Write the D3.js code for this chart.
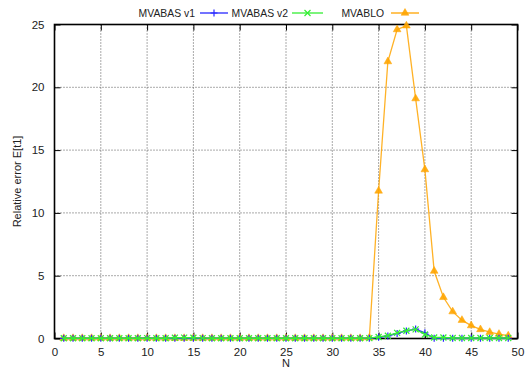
<!DOCTYPE html>
<html><head><meta charset="utf-8">
<script src="https://cdn.jsdelivr.net/npm/d3@7"></script>
<style>body{margin:0;background:#fff}svg{display:block;font-family:"Liberation Sans",Arial,sans-serif}</style>
</head><body><svg id="c" width="529" height="375"></svg>
<script>
const N = d3.range(1, 50);
const v1 = [0.01,0.01,0.01,0.01,0.01,0.01,0.01,0.01,0.01,0.02,0.01,0.01,0.02,0.02,0.02,0.01,0.01,0.01,0.01,0.01,0.01,0.01,0.01,0.01,0.01,0.01,0.01,0.01,0.01,0.01,0.01,0.01,0.01,0.02,0.1,0.2,0.4,0.6,0.75,0.45,0.02,0.02,0.02,0.02,0.02,0.02,0.02,0.02,0.02];
const v2 = [0.02,0.02,0.02,0.02,0.02,0.02,0.02,0.02,0.02,0.03,0.02,0.02,0.06,0.07,0.06,0.03,0.02,0.02,0.02,0.02,0.02,0.02,0.02,0.02,0.02,0.02,0.02,0.02,0.02,0.02,0.02,0.02,0.02,0.03,0.12,0.22,0.45,0.62,0.73,0.32,0.08,0.08,0.04,0.04,0.04,0.04,0.04,0.04,0.04];
const blo = [0.02,0.02,0.02,0.02,0.02,0.02,0.02,0.02,0.02,0.02,0.02,0.02,0.02,0.02,0.02,0.02,0.02,0.02,0.02,0.02,0.02,0.02,0.02,0.02,0.02,0.02,0.02,0.02,0.02,0.02,0.02,0.02,0.02,0.05,11.75,22.05,24.6,24.9,19.1,13.45,5.37,3.28,2.14,1.46,1.03,0.72,0.5,0.35,0.22];
const xTicks = [0,5,10,15,20,25,30,35,40,45,50];
const yTicks = [0,5,10,15,20,25];
const seriesNames = ["MVABAS v1","MVABAS v2","MVABLO"];
const seriesColors = ["#2828ff","#33ee33","#ffa500"];

const svg = d3.select("#c");
const L=54.5,R=517.5,T=24.5,B=338.5;
const x = d3.scaleLinear().domain([0,50]).range([L,R]);
const y = d3.scaleLinear().domain([0,25]).range([B,T]);

const g = svg.append("g");
g.selectAll(".gx").data(xTicks.filter(d=>d>0&&d<50)).enter().append("line")
 .attr("x1",d=>x(d)).attr("x2",d=>x(d)).attr("y1",T).attr("y2",B)
 .attr("stroke","#555").attr("stroke-width",1).attr("stroke-dasharray","1,2");
g.selectAll(".gy").data(yTicks.filter(d=>d>0&&d<25)).enter().append("line")
 .attr("x1",L).attr("x2",R).attr("y1",d=>y(d)).attr("y2",d=>y(d))
 .attr("stroke","#555").attr("stroke-width",1).attr("stroke-dasharray","1,2");

const xa = svg.append("g").attr("transform",`translate(0,${B})`)
 .call(d3.axisBottom(x).tickValues(xTicks).tickSize(-6).tickPadding(9));
const xt = svg.append("g").attr("transform",`translate(0,${T})`)
 .call(d3.axisTop(x).tickValues(xTicks).tickSize(-6).tickFormat(""));
const ya = svg.append("g").attr("transform",`translate(${L},0)`)
 .call(d3.axisLeft(y).tickValues(yTicks).tickSize(-6).tickPadding(10));
const yr = svg.append("g").attr("transform",`translate(${R},0)`)
 .call(d3.axisRight(y).tickValues(yTicks).tickSize(-6).tickFormat(""));
[xa,xt,ya,yr].forEach(a=>{a.select(".domain").remove();a.selectAll("line").attr("stroke","#000");
 a.selectAll("text").attr("font-size",11.5).attr("fill","#222").attr("font-family","Liberation Sans, Arial, sans-serif");});

svg.append("rect").attr("x",L).attr("y",T).attr("width",R-L).attr("height",B-T)
 .attr("fill","none").attr("stroke","#000").attr("stroke-width",1.6);

svg.append("text").attr("x",(L+R)/2).attr("y",367).attr("text-anchor","middle")
 .attr("font-size",11).attr("fill","#222").text("N");
svg.append("text").attr("transform",`translate(21,${(T+B)/2}) rotate(-90)`).attr("text-anchor","middle")
 .attr("font-size",11).attr("fill","#222").text("Relative error E[t1]");

const data = [v1,v2,blo];
const line = d3.line().x((d,i)=>x(N[i])).y(d=>y(d));
const tri = d3.symbol().type(d3.symbolTriangle).size(26);

function marker(sel, k, cx, cy){
  const c = seriesColors[k];
  if(k===0){
    sel.append("path").attr("d",`M${cx-3.5},${cy}h7M${cx},${cy-3.5}v7`).attr("stroke",c).attr("stroke-width",1.2).attr("fill","none");
  } else if(k===1){
    sel.append("path").attr("d",`M${cx-3},${cy-3}l6,6M${cx-3},${cy+3}l6,-6`).attr("stroke",c).attr("stroke-width",1.2).attr("fill","none");
  } else {
    sel.append("path").attr("d",tri()).attr("transform",`translate(${cx},${cy})`).attr("fill",c).attr("stroke",c).attr("stroke-width",0.5).attr("fill-opacity",0.9);
  }
}

[2,0,1].forEach(k=>{
  const s = svg.append("g");
  s.append("path").datum(data[k]).attr("d",line).attr("fill","none")
   .attr("stroke",seriesColors[k]).attr("stroke-width",1.3).attr("stroke-opacity",k===2?0.85:1);
  data[k].forEach((v,i)=>marker(s,k,x(N[i]),y(v)));
});

const leg = svg.append("g");
const legPos=[[195,200,228],[288,292,323],[384,391,419]];
legPos.forEach((p,k)=>{
  leg.append("text").attr("x",p[0]).attr("y",17).attr("text-anchor","end").attr("font-size",10.4).attr("fill","#222").text(seriesNames[k]);
  leg.append("line").attr("x1",p[1]).attr("x2",p[2]).attr("y1",13).attr("y2",13).attr("stroke",seriesColors[k]).attr("stroke-width",1.3);
  marker(leg,k,(p[1]+p[2])/2,13);
});
</script></body></html>
